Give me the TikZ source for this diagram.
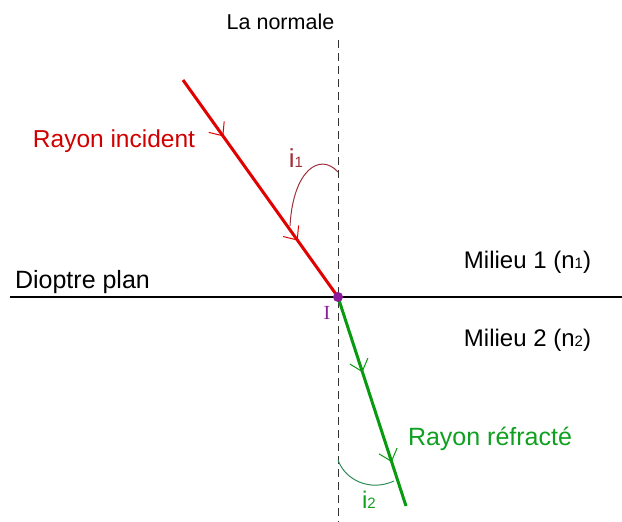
\documentclass[tikz,border=0pt]{standalone}
\usepackage{fontspec}
\setmainfont{Liberation Sans}
\newfontfamily\serifI{Liberation Serif}
\usetikzlibrary{arrows.meta, decorations.markings}

\definecolor{rayred}{HTML}{E00000}
\definecolor{txtred}{HTML}{D00000}
\definecolor{arcred}{HTML}{A0303A}
\definecolor{raygreen}{HTML}{089A10}
\definecolor{txtgreen}{HTML}{10A020}
\definecolor{arcgreen}{HTML}{2E8B57}
\definecolor{dotpurple}{HTML}{8A1C9C}

% small index digit sitting on the baseline
\newcommand{\idx}[1]{{\fontsize{15}{15}\selectfont #1}}

\begin{document}
\begin{tikzpicture}[x=1pt, y=-1pt,
    lbl/.style={inner sep=0pt, anchor=base},
    ray/.style={line width=3pt},
    barb/.style={postaction={decorate, decoration={markings,
        mark=at position #1 with {\arrow{Straight Barb[length=11pt, width=19pt, line width=1pt]}}}}},
    normalline/.style={line width=1pt, black!80, dash pattern=on 8pt off 5pt},
    anglearc/.style={line width=1pt}
  ]
  \useasboundingbox (0,0) rectangle (622,522);

  % points
  \coordinate (Ipt) at (338,297);
  \coordinate (S) at (183,80);
  \coordinate (R) at (406,506);
  \coordinate (Ntop) at (338,40);
  \coordinate (Nbot) at (338,522);
  \coordinate (Dl) at (10,297);
  \coordinate (Dr) at (622,297);

  % normal and dioptre
  \draw[normalline] (Ntop) -- (Nbot);
  \draw[line width=1.2pt] (Dl) -- (Dr);

  % rays
  \draw[ray, rayred, barb=0.26, barb=0.74] (S) -- (Ipt);
  \draw[ray, raygreen, barb=0.36, barb=0.79] (Ipt) -- (R);

  % angles
  \draw[anglearc, arcred] (338,172) .. controls (320,152) and (293,170) .. (290,226);
  \draw[anglearc, arcgreen] (338,460) .. controls (345,480) and (370,492) .. (394,481);

  \node[circle, fill=dotpurple, inner sep=0pt, minimum size=10pt] (I) at (Ipt) {};

  % labels
  \node[lbl, font=\fontsize{21.5}{24}\selectfont] (normale) at (280.5,29) {La normale};
  \node[lbl, txtred, font=\fontsize{24.5}{28}\selectfont] (inc) at (114,147) {Rayon incident};
  \node[lbl, font=\fontsize{25}{28}\selectfont] (dioptre) at (82.5,288) {Dioptre plan};
  \node[lbl, font=\fontsize{24}{28}\selectfont] (m1) at (527.5,268) {Milieu 1 (n\idx{1})};
  \node[lbl, font=\fontsize{24}{28}\selectfont] (m2) at (527.5,346) {Milieu 2 (n\idx{2})};
  \node[lbl, txtgreen, font=\fontsize{25}{28}\selectfont] (refr) at (490,445) {Rayon réfracté};
  \node[lbl, arcred, font=\fontsize{26}{28}\selectfont] (i1) at (296,167) {i\idx{1}};
  \node[lbl, txtgreen, font=\fontsize{24}{26}\selectfont] (i2) at (369,508) {i\idx{2}};
  \node[lbl, dotpurple, font=\serifI\fontsize{20}{22}\selectfont] (Ilbl) at (327,319) {I};
\end{tikzpicture}
\end{document}
